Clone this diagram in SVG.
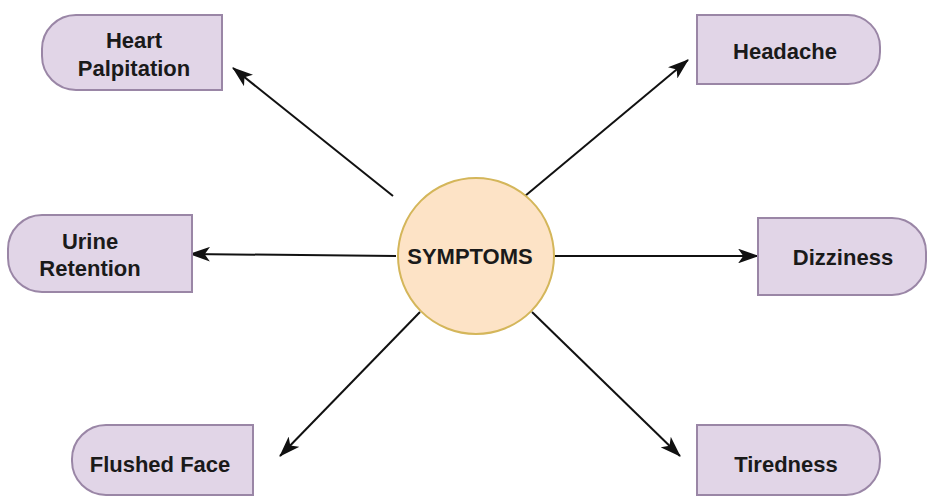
<svg xmlns="http://www.w3.org/2000/svg" width="928" height="497" viewBox="0 0 928 497">
<style>
.box{fill:#e1d5e7;stroke:#9a86a6;stroke-width:2}
.t{font-family:"Liberation Sans",Arial,sans-serif;font-weight:bold;font-size:22px;fill:#1a1a1a;text-anchor:middle;dominant-baseline:central}
.c{stroke:#111;stroke-width:2;fill:none;marker-end:url(#ah)}
</style>
<defs>
<marker id="ah" viewBox="0 0 20 14" refX="19" refY="7" markerWidth="10.5" markerHeight="7.4" markerUnits="strokeWidth" orient="auto">
<path d="M0,0 L20,7 L0,14 L5,7 Z" fill="#111"/>
</marker>
</defs>
<rect width="928" height="497" fill="#ffffff"/>
<g id="connectors">
<line class="c" x1="393" y1="196" x2="233" y2="68"/>
<line class="c" x1="525" y1="196" x2="688" y2="60"/>
<line class="c" x1="396" y1="256" x2="190" y2="254"/>
<line class="c" x1="554" y1="256" x2="758" y2="256"/>
<line class="c" x1="420" y1="312" x2="280" y2="456"/>
<line class="c" x1="532" y1="312" x2="680" y2="456"/>
</g>
<g id="symptoms">
<circle cx="476" cy="256" r="78" fill="#fde3c6" stroke="#d4b65a" stroke-width="2"/>
<text class="t" x="470" y="256">SYMPTOMS</text>
</g>
<g id="heart-palpitation">
<path class="box" d="M76,15 H222 V90 H76 A34,34 0 0 1 42,56 V49 A34,34 0 0 1 76,15 Z"/>
<text class="t" x="134" y="40">Heart</text>
<text class="t" x="134" y="68">Palpitation</text>
</g>
<g id="headache">
<path class="box" d="M697,15 H848 A32,32 0 0 1 880,47 V52 A32,32 0 0 1 848,84 H697 Z"/>
<text class="t" x="785" y="51">Headache</text>
</g>
<g id="urine-retention">
<path class="box" d="M42,215 H192 V292 H42 A34,34 0 0 1 8,258 V249 A34,34 0 0 1 42,215 Z"/>
<text class="t" x="90" y="241">Urine</text>
<text class="t" x="90" y="268">Retention</text>
</g>
<g id="dizziness">
<path class="box" d="M758,218 H892 A34,34 0 0 1 926,252 V261 A34,34 0 0 1 892,295 H758 Z"/>
<text class="t" x="843" y="257">Dizziness</text>
</g>
<g id="flushed-face">
<path class="box" d="M106,425 H253 V495 H106 A34,34 0 0 1 72,461 V459 A34,34 0 0 1 106,425 Z"/>
<text class="t" x="160" y="464">Flushed Face</text>
</g>
<g id="tiredness">
<path class="box" d="M697,425 H846 A34,34 0 0 1 880,459 V461 A34,34 0 0 1 846,495 H697 Z"/>
<text class="t" x="786" y="464">Tiredness</text>
</g>
</svg>
